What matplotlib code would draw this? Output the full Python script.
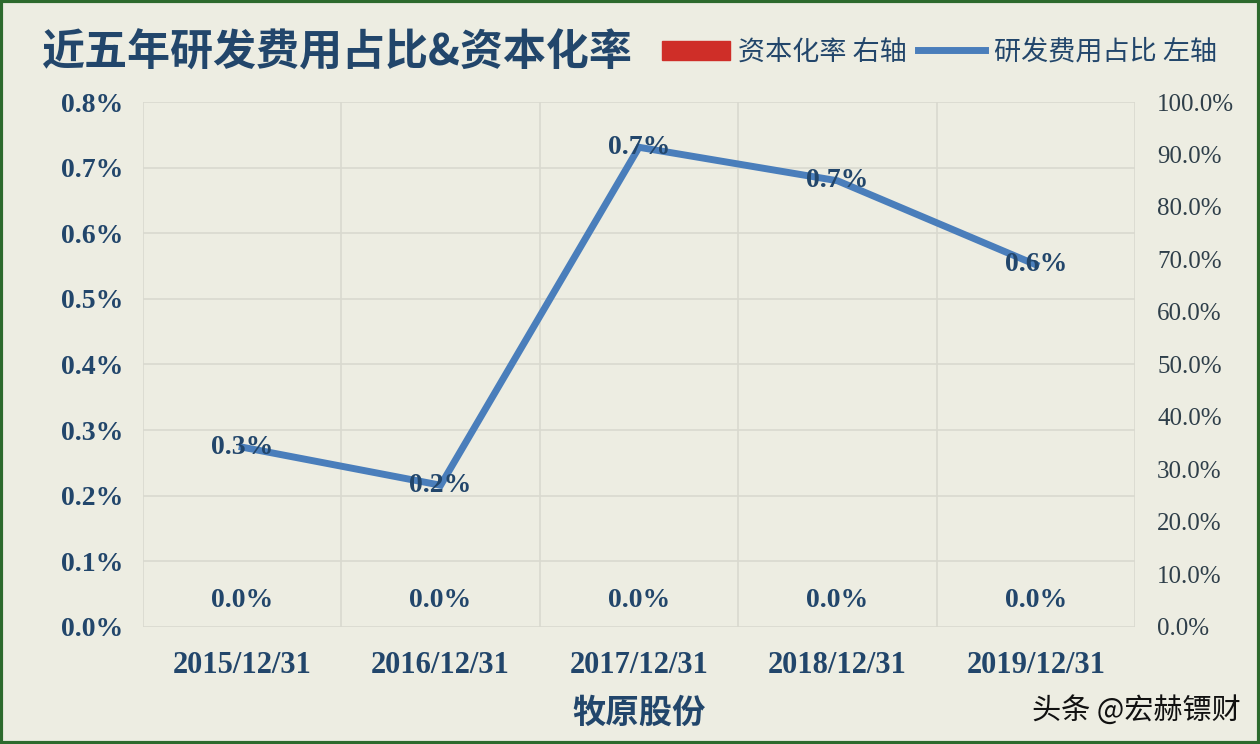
import matplotlib.pyplot as plt
from matplotlib.patches import Rectangle, Patch
from matplotlib.lines import Line2D
from matplotlib.ticker import FuncFormatter, MultipleLocator

# data
dates = ["2015/12/31", "2016/12/31", "2017/12/31", "2018/12/31", "2019/12/31"]
rd_ratio = [0.274, 0.216, 0.731, 0.680, 0.552]      # 研发费用占比, % (left axis)
rd_labels = ["0.3%", "0.2%", "0.7%", "0.7%", "0.6%"]
cap_rate = [0.0, 0.0, 0.0, 0.0, 0.0]                 # 资本化率, % (right axis)

bg = "#EDEDE2"
navy = "#22466B"
blue = "#4A7EBB"
red = "#CF2E28"
cjk = ["Noto Sans CJK SC", "DejaVu Sans"]
serif = ["Liberation Serif", "DejaVu Serif"]

fig = plt.figure(figsize=(12.6, 7.44), dpi=100, facecolor=bg)
ax = fig.add_axes([0.1135, 0.1573, 0.7873, 0.7056])
ax.set_facecolor(bg)
ax2 = ax.twinx()

x = list(range(len(dates)))

# capitalisation rate bars (all zero) on right axis
ax2.bar(x, cap_rate, width=0.5, color=red)
ax2.set_ylim(0, 100)
ax2.yaxis.set_major_locator(MultipleLocator(10))
ax2.yaxis.set_major_formatter(FuncFormatter(lambda v, p: f"{v:.1f}%"))
for xi, v in zip(x, cap_rate):
    ax2.annotate(f"{v:.1f}%", (xi, v), xytext=(0, 19), textcoords="offset points",
                 ha="center", va="center", fontsize=20, fontweight="bold",
                 family=serif, color=navy)

# R&D ratio line on left axis
ax.set_zorder(ax2.get_zorder() + 1)
ax.patch.set_visible(False)
ax.plot(x, rd_ratio, color=blue, lw=5, solid_joinstyle="miter")
for xi, v, lab in zip(x, rd_ratio, rd_labels):
    ax.text(xi, v, lab, ha="center", va="center", fontsize=20, fontweight="bold",
            family=serif, color=navy)

ax.set_xlim(-0.5, len(dates) - 0.5)
ax.set_ylim(0, 0.8)
ax.yaxis.set_major_locator(MultipleLocator(0.1))
ax.yaxis.set_major_formatter(FuncFormatter(lambda v, p: f"{v:.1f}%"))
ax.set_xticks(x)
ax.set_xticklabels(dates)
ax.set_xticks([i - 0.5 for i in range(len(dates) + 1)], minor=True)

# grid
ax2.set_facecolor(bg)
ax.grid(True, axis="y", color="#D9D9CF", lw=1.2)
ax.grid(True, axis="x", which="minor", color="#D9D9CF", lw=1.2)
ax.grid(False, axis="x", which="major")
for a in (ax, ax2):
    for s in a.spines.values():
        s.set_visible(False)
    a.tick_params(length=0, which="both")

for t in ax.get_yticklabels():
    t.set_fontfamily(serif)
    t.set_fontweight("bold")
    t.set_fontsize(20)
    t.set_color(navy)
ax.tick_params(axis="y", pad=14)
for t in ax.get_xticklabels():
    t.set_fontfamily(serif)
    t.set_fontweight("bold")
    t.set_fontsize(22)
    t.set_color(navy)
ax.tick_params(axis="x", pad=17)
for t in ax2.get_yticklabels():
    t.set_fontfamily(serif)
    t.set_fontsize(18)
    t.set_color("#2F3F4A")
ax2.tick_params(axis="y", pad=16)

ax.set_xlabel("牧原股份", family=cjk, fontsize=24, fontweight="bold", color=navy, labelpad=12)

# title and legend
fig.text(0.033, 0.93, "近五年研发费用占比&资本化率", family=cjk, fontsize=31,
         fontweight="bold", color=navy, va="center", ha="left")
handles = [Patch(facecolor=red, edgecolor=red),
           Line2D([], [], color=blue, lw=5)]
fig.legend(handles, ["资本化率 右轴", "研发费用占比 左轴"], loc="center right",
           bbox_to_anchor=(0.985, 0.93), ncol=2, frameon=False, handlelength=2.5,
           handletextpad=0.3, columnspacing=0.4,
           prop={"family": cjk, "size": 19.5}, labelcolor=navy)

fig.text(0.985, 0.044, "头条 @宏赫镖财", family=cjk, fontsize=21, color="#111111",
         ha="right", va="center")

# green frame round the picture
fig.patches.append(Rectangle((0.001, 0.002), 0.998, 0.996, transform=fig.transFigure,
                             fill=False, edgecolor="#2D6A2D", lw=3))

fig.savefig("out.png", dpi=100, facecolor=bg)
